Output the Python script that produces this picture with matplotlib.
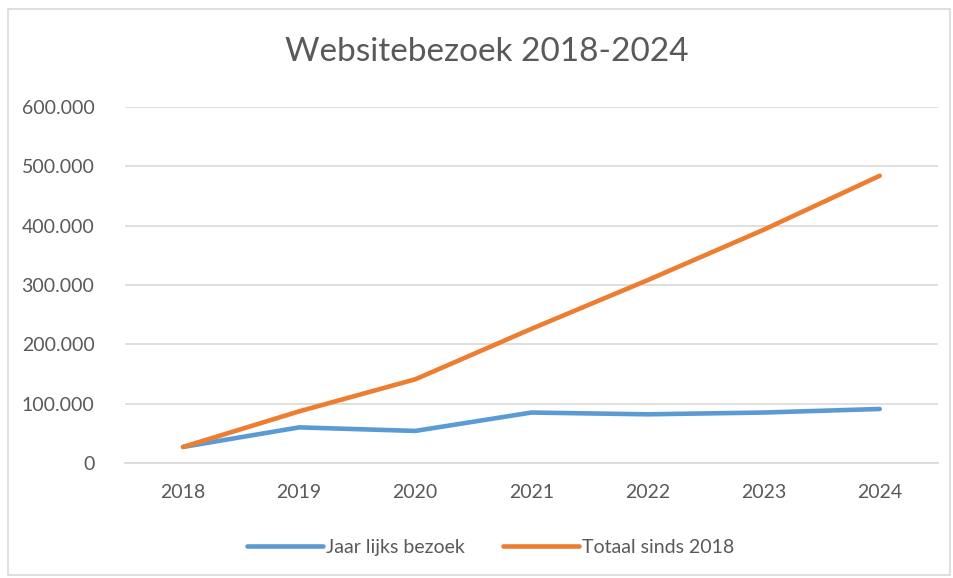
import matplotlib
matplotlib.use("Agg")
import matplotlib.pyplot as plt
from matplotlib.ticker import FuncFormatter
from matplotlib.patches import Rectangle

# data
jaren = ["2018", "2019", "2020", "2021", "2022", "2023", "2024"]
jaarlijks = [27000, 60000, 54000, 85000, 82000, 85000, 91000]
totaal = [27000, 87000, 141000, 226000, 308000, 393000, 484000]

plt.rcParams['font.family'] = ['Lato', 'DejaVu Sans']
grijs = "#595959"

fig = plt.figure(figsize=(9.54, 5.78), dpi=100)
fig.patches.append(Rectangle((0.008, 0.005), 0.988, 0.98, transform=fig.transFigure,
                             fill=False, edgecolor="#D9D9D9", linewidth=1.2))
ax = fig.add_axes([0.131, 0.199, 0.852, 0.616])

x = range(len(jaren))
ax.plot(x, jaarlijks, color="#5B9BD5", linewidth=3.3, label="Jaar lijks bezoek",
        solid_capstyle="round", solid_joinstyle="round")
ax.plot(x, totaal, color="#ED7D31", linewidth=3.3, label="Totaal sinds 2018",
        solid_capstyle="round", solid_joinstyle="round")

ax.set_xlim(-0.5, len(jaren) - 0.5)
ax.set_ylim(0, 600000)
ax.set_yticks(range(0, 600001, 100000))
ax.yaxis.set_major_formatter(FuncFormatter(lambda v, p: f"{int(v):,}".replace(",", ".")))
ax.set_xticks(list(x))
ax.set_xticklabels(jaren)
ax.grid(axis="y", color="#D9D9D9", linewidth=1.2)
ax.set_axisbelow(True)
for s in ["top", "right", "left"]:
    ax.spines[s].set_visible(False)
ax.spines["bottom"].set_color("#D9D9D9")
ax.spines["bottom"].set_linewidth(1.2)
ax.tick_params(axis="both", length=0, labelsize=14, colors=grijs, pad=15)
ax.tick_params(axis="y", pad=22)

fig.suptitle("Websitebezoek 2018-2024", x=0.51, y=0.91, fontsize=24, color=grijs,
             va="center")
ax.legend(loc="center", bbox_to_anchor=(0.45, -0.236), ncol=2, frameon=False,
          fontsize=14, labelcolor=grijs, handlelength=3.9, handletextpad=0.15,
          columnspacing=2.0)

fig.savefig("out.png", dpi=100)
